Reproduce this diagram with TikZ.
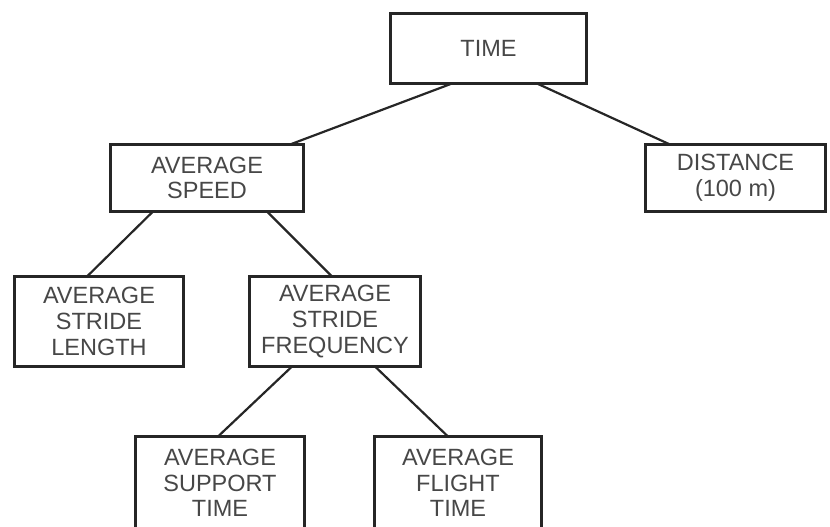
\documentclass[tikz,border=0pt]{standalone}
\usepackage{fontspec}
\setmainfont{Liberation Sans}
\begin{document}
\begin{tikzpicture}[x=1pt,y=-1pt,
  box/.style={draw=black!85, line width=3.3pt, fill=white, align=center, inner sep=0pt, outer sep=0pt,
    text=black!72, font=\fontsize{23.5}{25.7}\selectfont},
  link/.style={draw=black!85, line width=2.2pt}]
\useasboundingbox (0,0) rectangle (830,527);
\node[box, minimum width=196pt, minimum height=70pt] (time) at (488.5,48.5) {TIME};
\node[box, minimum width=193pt, minimum height=67pt] (speed) at (207,178) {AVERAGE\\SPEED};
\node[box, minimum width=180pt, minimum height=67pt] (dist) at (735.5,178) {DISTANCE\\(100 m)};
\node[box, minimum width=169pt, minimum height=90pt] (len) at (99,321.5) {AVERAGE\\STRIDE\\LENGTH};
\node[box, minimum width=171pt, minimum height=90pt] (freq) at (335,321.5) {AVERAGE\\STRIDE\\FREQUENCY};
\node[box, minimum width=169pt, minimum height=93pt] (sup) at (220,483) {AVERAGE\\SUPPORT\\TIME};
\node[box, minimum width=167pt, minimum height=93pt] (fli) at (458,483) {AVERAGE\\FLIGHT\\TIME};
\draw[link] ([xshift=-36.5pt]time.south) -- ([xshift=83pt]speed.north);
\draw[link] ([xshift=48.5pt]time.south) -- ([xshift=-65.5pt]dist.north);
\draw[link] ([xshift=-54pt]speed.south) -- ([xshift=-12pt]len.north);
\draw[link] ([xshift=60pt]speed.south) -- ([xshift=-3pt]freq.north);
\draw[link] ([xshift=-43pt]freq.south) -- ([xshift=-2pt]sup.north);
\draw[link] ([xshift=40pt]freq.south) -- ([xshift=-10pt]fli.north);
\end{tikzpicture}
\end{document}
